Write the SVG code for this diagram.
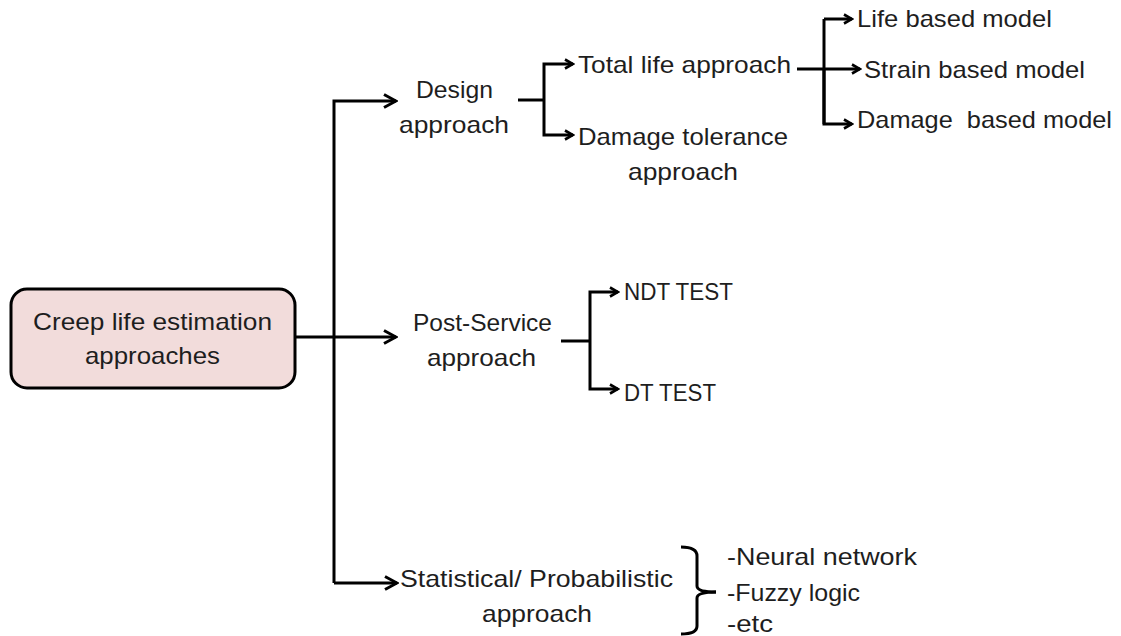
<svg xmlns="http://www.w3.org/2000/svg" width="1121" height="636" viewBox="0 0 1121 636">
  <style>
    .lbl { font-family: "Liberation Sans", Arial, sans-serif; font-size: 24px; fill: #1e1e1e; }
    .mid { text-anchor: middle; }
    .wire { fill: none; stroke: #000; stroke-width: 3; }
    .small { marker-end: url(#arrowSmall); }
  </style>
  <defs>
    <marker id="arrowBig" markerUnits="userSpaceOnUse" viewBox="0 0 16 16" refX="14" refY="8" markerWidth="16" markerHeight="16" orient="auto">
      <path d="M2,1.5 L14,8 L2,14.5" fill="none" stroke="#000" stroke-width="3"/>
    </marker>
    <marker id="arrowSmall" markerUnits="userSpaceOnUse" viewBox="0 0 12 12" refX="10" refY="6" markerWidth="12" markerHeight="12" orient="auto">
      <path d="M2,1.5 L10,6 L2,10.5" fill="none" stroke="#000" stroke-width="2.6"/>
    </marker>
  </defs>

  <rect width="1121" height="636" fill="#fff"/>

  <!-- connectors -->
  <g id="connectors">
    <!-- root to level one -->
    <path class="wire" d="M295,337 H396" style="marker-end:url(#arrowBig)"/>
    <path class="wire" d="M334,583 V101 H396" style="marker-end:url(#arrowBig)"/>
    <path class="wire" d="M334,583 H397" style="marker-end:url(#arrowBig)"/>
    <!-- design approach fork -->
    <path class="wire" d="M518,100 H544"/>
    <path class="wire small" d="M544,100 V64 H573"/>
    <path class="wire small" d="M544,100 V135 H573"/>
    <!-- total life fork -->
    <path class="wire" d="M824,124 V19"/>
    <path class="wire small" d="M824,19 H852"/>
    <path class="wire small" d="M797,69 H860"/>
    <path class="wire small" d="M824,69 V124 H852"/>
    <!-- post-service fork -->
    <path class="wire" d="M561,341 H590"/>
    <path class="wire small" d="M590,341 V292 H618"/>
    <path class="wire small" d="M590,341 V389 H618"/>
    <!-- brace for statistical methods -->
    <path class="wire" d="M681,547 Q697,547 697,556 L697,586 Q697,592 716,592"/>
    <path class="wire" d="M681,634 Q697,634 697,626 L697,598 Q697,592 716,592"/>
  </g>

  <!-- root node -->
  <g id="root">
    <rect x="11" y="289" width="284" height="99" rx="16" ry="16" fill="#f2dcdb" stroke="#000" stroke-width="3"/>
    <text class="lbl" x="33" y="330" textLength="239" lengthAdjust="spacingAndGlyphs">Creep life estimation</text>
    <text class="lbl" x="85" y="364" textLength="135" lengthAdjust="spacingAndGlyphs">approaches</text>
  </g>

  <g id="design">
    <text class="lbl" x="416" y="98" textLength="77" lengthAdjust="spacingAndGlyphs">Design</text>
    <text class="lbl" x="399" y="133" textLength="110" lengthAdjust="spacingAndGlyphs">approach</text>
  </g>

  <g id="total-life">
    <text class="lbl" x="578" y="73" textLength="213" lengthAdjust="spacingAndGlyphs">Total life approach</text>
  </g>

  <g id="damage-tolerance">
    <text class="lbl" x="578" y="145" textLength="210" lengthAdjust="spacingAndGlyphs">Damage tolerance</text>
    <text class="lbl" x="628" y="180" textLength="110" lengthAdjust="spacingAndGlyphs">approach</text>
  </g>

  <g id="life-based">
    <text class="lbl" x="857" y="27" textLength="195" lengthAdjust="spacingAndGlyphs">Life based model</text>
  </g>

  <g id="strain-based">
    <text class="lbl" x="864" y="78" textLength="221" lengthAdjust="spacingAndGlyphs">Strain based model</text>
  </g>

  <g id="damage-based">
    <text class="lbl" x="857" y="128" xml:space="preserve" textLength="255" lengthAdjust="spacingAndGlyphs">Damage  based model</text>
  </g>

  <g id="post-service">
    <text class="lbl" x="413" y="331" textLength="139" lengthAdjust="spacingAndGlyphs">Post-Service</text>
    <text class="lbl" x="427" y="366" textLength="109" lengthAdjust="spacingAndGlyphs">approach</text>
  </g>

  <g id="ndt">
    <text class="lbl" x="624" y="300" textLength="109" lengthAdjust="spacingAndGlyphs">NDT TEST</text>
  </g>

  <g id="dt">
    <text class="lbl" x="624" y="401" textLength="92" lengthAdjust="spacingAndGlyphs">DT TEST</text>
  </g>

  <g id="statistical">
    <text class="lbl" x="400" y="587" textLength="273" lengthAdjust="spacingAndGlyphs">Statistical/ Probabilistic</text>
    <text class="lbl" x="482" y="622" textLength="110" lengthAdjust="spacingAndGlyphs">approach</text>
  </g>

  <g id="methods">
    <text class="lbl" x="727" y="565" textLength="190" lengthAdjust="spacingAndGlyphs">-Neural network</text>
    <text class="lbl" x="727" y="601" textLength="133" lengthAdjust="spacingAndGlyphs">-Fuzzy logic</text>
    <text class="lbl" x="727" y="632" textLength="46" lengthAdjust="spacingAndGlyphs">-etc</text>
  </g>
</svg>
